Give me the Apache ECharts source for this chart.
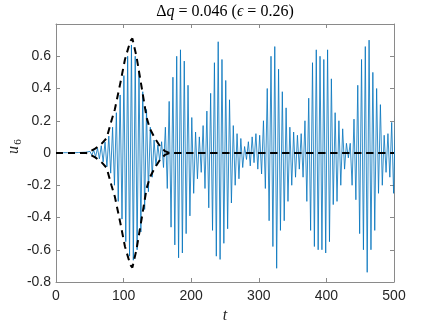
<!DOCTYPE html>
<html>
<head>
<meta charset="utf-8">
<script src="https://cdn.jsdelivr.net/npm/echarts@6/dist/echarts.min.js"></script>
<style>html,body{margin:0;padding:0;background:#fff}#c{width:436px;height:327px}</style>
</head>
<body>
<div id="c"></div>
<script>
// ---- data ----
const xTicks = [0, 100, 200, 300, 400, 500];
const yTicks = [-0.8, -0.6, -0.4, -0.2, 0, 0.2, 0.4, 0.6];
// blue signal u6: successive extremes (peak, trough, ...) spaced by a half period in t
const halfStep = 2.79;
const u6Extremes = [
 0.002,-0.002,0.002,-0.002,0.002,-0.002,0.002,-0.002,0.002,-0.002,
 0.002,-0.002,0.003,-0.003,0.004,-0.004,0.005,-0.007,0.01,-0.014,
 0.018,-0.024,0.03,-0.036,0.045,-0.055,0.068,-0.085,0.105,-0.125,
 0.16,-0.2,0.25,-0.3,0.36,-0.41,0.48,-0.55,0.6,-0.64,
 0.67,-0.665,0.6,-0.6,0.5,-0.49,0.38,-0.35,0.27,-0.24,
 0.16,-0.15,0.08,-0.08,0.05,-0.05,0.07,-0.09,0.16,-0.22,
 0.32,-0.46,0.47,-0.57,0.6,-0.65,0.64,-0.62,0.57,-0.5,
 0.42,-0.39,0.22,-0.25,0.13,-0.16,0.1,-0.12,0.17,-0.22,
 0.26,-0.34,0.37,-0.48,0.56,-0.64,0.69,-0.66,0.58,-0.56,
 0.45,-0.47,0.33,-0.31,0.17,-0.2,0.12,-0.16,0.09,-0.09,
 0.04,-0.04,0.07,-0.08,0.1,-0.06,0.12,-0.1,0.11,-0.13,
 0.2,-0.22,0.4,-0.42,0.6,-0.58,0.66,-0.715,0.52,-0.48,
 0.38,-0.42,0.28,-0.3,0.16,-0.2,0.13,-0.15,0.11,-0.1,
 0.12,-0.15,0.2,-0.3,0.34,-0.48,0.56,-0.58,0.64,-0.6,
 0.6,-0.6,0.58,-0.62,0.64,-0.55,0.46,-0.32,0.25,-0.3,
 0.2,-0.2,0.15,-0.1,0.06,-0.03,0.06,-0.2,0.21,-0.29,
 0.42,-0.5,0.58,-0.6,0.66,-0.74,0.7,-0.6,0.5,-0.48,
 0.4,-0.25,0.3,-0.2,0.11,-0.12,0.12,-0.15,0.19,-0.25,
 0.23
];
// dashed envelope
const envT     = [0, 45, 58, 68, 75, 82, 87, 95, 102, 110, 113, 119, 127, 134, 139, 146, 154, 161, 168, 500];
const envUpper = [0, 0, 0.027, 0.06, 0.093, 0.2, 0.27, 0.43, 0.58, 0.695, 0.71, 0.6, 0.4, 0.22, 0.15, 0.093, 0.041, 0.012, 0, 0];
const envLower = [0, 0, -0.027, -0.06, -0.093, -0.2, -0.27, -0.43, -0.58, -0.695, -0.71, -0.6, -0.4, -0.22, -0.15, -0.093, -0.041, -0.012, 0, 0];

// ---- chart ----
const chart = echarts.init(document.getElementById('c'), null, {renderer: 'canvas'});
const axisCol = '#8a8a8a';
const labCol = '#262626';
const sans = 'Liberation Sans, Arial, sans-serif';
const serif = 'Liberation Serif, DejaVu Serif, serif';

const u6Data = u6Extremes.map((v, i) => [i * halfStep, v]);
const upData = envT.map((t, i) => [t, envUpper[i]]);
const loData = envT.map((t, i) => [t, envLower[i]]);

function yFmt(v) {
  const r = Math.round(v * 10) / 10;
  if (r > 0.7) return '';
  return r === 0 ? '0' : r.toFixed(1);
}

const baseAxis = {
  type: 'value',
  axisLine: {show: true, onZero: false, lineStyle: {color: axisCol, width: 1}},
  axisTick: {show: true, inside: true, length: 4, lineStyle: {color: axisCol, width: 1}},
  splitLine: {show: false}
};

chart.setOption({
  animation: false,
  backgroundColor: '#fff',
  grid: {left: 56, right: 42, top: 24, bottom: 45, containLabel: false},
  xAxis: [
    Object.assign({}, baseAxis, {position: 'bottom', min: 0, max: 500, interval: 100,
      axisLabel: {color: labCol, fontSize: 14, fontFamily: sans, margin: 7}}),
    Object.assign({}, baseAxis, {position: 'top', min: 0, max: 500, interval: 100,
      axisLabel: {show: false}})
  ],
  yAxis: [
    Object.assign({}, baseAxis, {position: 'left', min: -0.8, max: 0.8, interval: 0.2,
      axisLabel: {color: labCol, fontSize: 14, fontFamily: sans, margin: 5, formatter: yFmt}}),
    Object.assign({}, baseAxis, {position: 'right', min: -0.8, max: 0.8, interval: 0.2,
      axisLabel: {show: false}})
  ],
  series: [
    {type: 'line', data: u6Data, showSymbol: false, symbol: 'none', clip: true,
      lineStyle: {color: '#0072BD', width: 0.8}, z: 2},
    {type: 'line', data: upData, showSymbol: false, symbol: 'none', clip: true,
      lineStyle: {color: '#000', width: 2, type: [7, 5]}, z: 3},
    {type: 'line', data: loData, showSymbol: false, symbol: 'none', clip: true,
      lineStyle: {color: '#000', width: 2, type: [7, 5]}, z: 3}
  ],
  graphic: [
    {type: 'text', x: 225, y: 12, z: 10,
      style: {
        text: '{n|Δ}{i|q}{n| = 0.046 (}{i|ϵ}{n| = 0.26)}',
        align: 'center', verticalAlign: 'middle',
        rich: {
          n: {fontFamily: serif, fontSize: 16, fill: '#000'},
          i: {fontFamily: serif, fontSize: 16, fontStyle: 'italic', fill: '#000'}
        }
      }
    },
    {type: 'text', x: 225, y: 316, z: 10,
      style: {text: 't', fontFamily: serif, fontStyle: 'italic', fontSize: 16, fill: labCol,
        align: 'center', verticalAlign: 'middle'}},
    {type: 'group', x: 14, y: 146, rotation: Math.PI / 2, z: 10,
      children: [
        {type: 'text', x: -4, y: 0, style: {text: 'u', fontFamily: serif, fontStyle: 'italic', fontSize: 16, fill: labCol, align: 'center', verticalAlign: 'middle'}},
        {type: 'text', x: 4, y: 4, style: {text: '6', fontFamily: serif, fontSize: 11, fill: labCol, align: 'center', verticalAlign: 'middle'}}
      ]}
  ]
});
</script>
</body>
</html>
